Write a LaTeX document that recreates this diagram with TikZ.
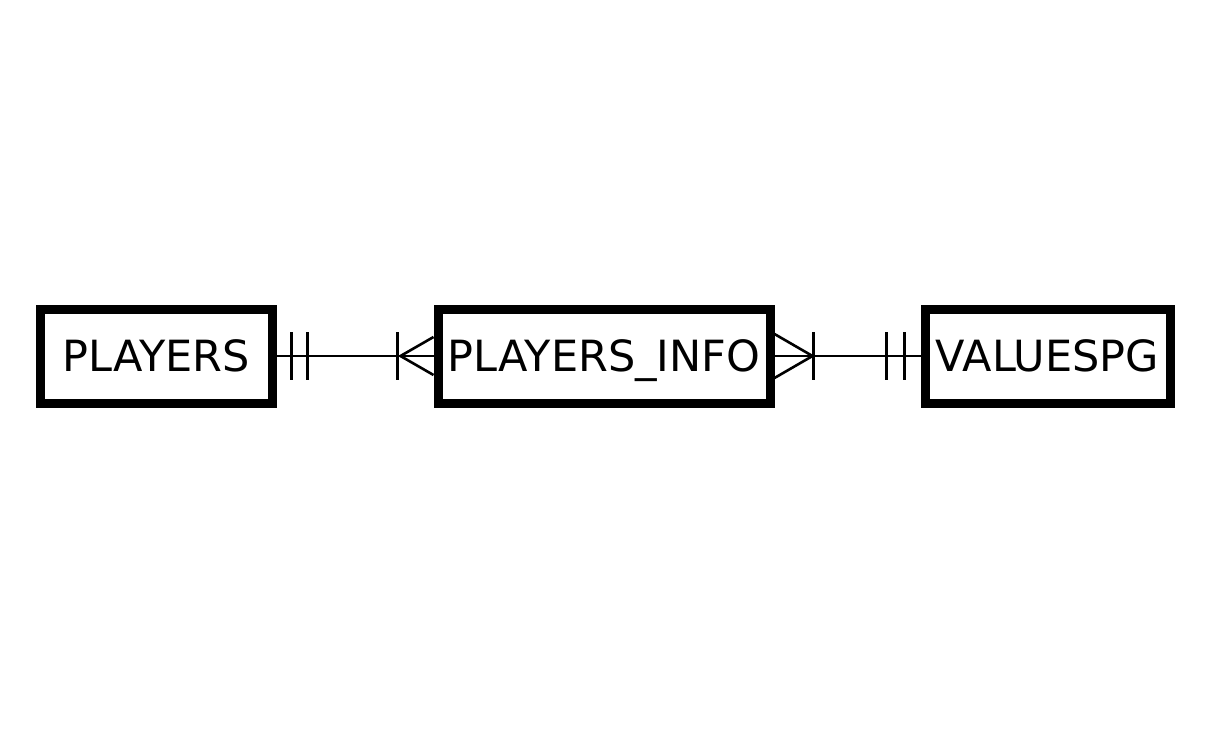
\documentclass[tikz,border=0pt]{standalone}
\usepackage{fontspec}
\setmainfont{DejaVu Sans}
\usetikzlibrary{calc}
\begin{document}
\begin{tikzpicture}[x=1pt,y=-1pt,
  entity/.style={draw, line width=9pt, minimum height=94pt, inner sep=2pt,
    text height=31pt, text depth=0pt,
    font=\fontsize{43}{50}\selectfont},
  rel/.style={line width=2.6pt}]
\useasboundingbox (0,0) rectangle (1224,731);
\node[entity, minimum width=232pt] (players) at (156,356) {PLAYERS};
\node[entity, minimum width=332pt] (info) at (604,356) {PLAYERS\_INFO};
\node[entity, minimum width=245pt] (values) at (1047.5,356) {VALUESPG};
% connector 1
\draw[rel] (players.east) -- (info.west);
\draw[rel] ($(players.east)+(15,-24)$) -- ($(players.east)+(15,24)$);
\draw[rel] ($(players.east)+(31,-24)$) -- ($(players.east)+(31,24)$);
\draw[rel] ($(info.west)+(-36,-24)$) -- ($(info.west)+(-36,24)$);
\draw[rel] ($(info.west)+(0,-19)$) -- ($(info.west)+(-33,0)$) -- ($(info.west)+(0,19)$);
% connector 2
\draw[rel] (info.east) -- (values.west);
\draw[rel] ($(info.east)+(39,-24)$) -- ($(info.east)+(39,24)$);
\draw[rel] ($(info.east)+(0,-22)$) -- ($(info.east)+(38,0)$) -- ($(info.east)+(0,22)$);
\draw[rel] ($(values.west)+(-34,-24)$) -- ($(values.west)+(-34,24)$);
\draw[rel] ($(values.west)+(-16,-24)$) -- ($(values.west)+(-16,24)$);
\end{tikzpicture}
\end{document}
